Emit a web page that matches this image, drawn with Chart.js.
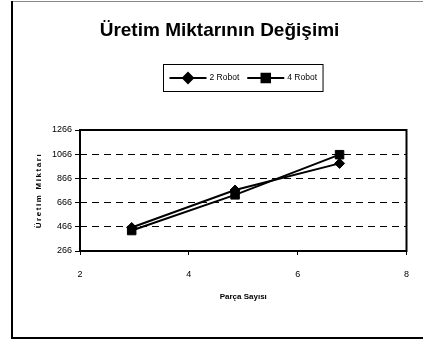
<!DOCTYPE html>
<html>
<head>
<meta charset="utf-8">
<title>Üretim Miktarının Değişimi</title>
<script src="https://cdn.jsdelivr.net/npm/chart.js@4/dist/chart.umd.min.js"></script>
<style>
  html, body { margin: 0; padding: 0; background: #fff; }
  #wrap { position: relative; width: 423px; height: 344px; }
</style>
</head>
<body>
<div id="wrap"><canvas id="c" width="423" height="344"></canvas></div>
<script>
// Parça sayısı (x) and production amounts for each robot configuration
const parcaSayisi = [2.95, 4.85, 6.77];
const robot2 = [460, 770, 990];
const robot4 = [435, 730, 1062];
const seriesLabels = ['2 Robot', '4 Robot'];
const yTicks = [266, 466, 666, 866, 1066, 1266];
const xTicks = [2, 4, 6, 8];

const FONT = "'Liberation Sans', Arial, sans-serif";

// Outer frame of the chart object
const framePlugin = {
  id: 'frame',
  beforeDraw(chart) {
    const ctx = chart.ctx;
    ctx.save();
    ctx.fillStyle = '#fff';
    ctx.fillRect(0, 0, chart.width, chart.height);
    ctx.strokeStyle = '#8a8a8a';
    ctx.lineWidth = 1;
    ctx.beginPath();
    ctx.moveTo(12, 1.5); ctx.lineTo(chart.width, 1.5);
    ctx.stroke();
    ctx.strokeStyle = '#000';
    ctx.lineWidth = 2;
    ctx.beginPath();
    ctx.moveTo(12, 1); ctx.lineTo(12, 338); ctx.lineTo(chart.width, 338);
    ctx.stroke();
    ctx.restore();
  },
  // spaced lettering for the vertical axis title
  afterLayout(chart) {
    const s = chart.scales.y;
    if (s && !s._spacedTitle) {
      const orig = s.drawTitle.bind(s);
      s.drawTitle = function () {
        const c = this.ctx;
        c.save();
        c.letterSpacing = '1.6px';
        orig();
        c.restore();
      };
      s._spacedTitle = true;
    }
  }
};

// Solid border round the plot area
const plotBorderPlugin = {
  id: 'plotBorder',
  afterDatasetsDraw(chart) {
    const {ctx, chartArea: a} = chart;
    ctx.save();
    ctx.strokeStyle = '#000';
    ctx.lineWidth = 2;
    ctx.strokeRect(a.left, a.top, a.right - a.left, a.bottom - a.top);
    ctx.restore();
  }
};

// Boxed legend: line with marker, then the series name
const boxLegendPlugin = {
  id: 'boxLegend',
  afterDraw(chart) {
    const {ctx, chartArea: a} = chart;
    const cy = 78;
    const lineLen = 37, gap = 3, itemGap = 8;
    ctx.save();
    ctx.font = "8.5px " + FONT;
    const items = chart.data.datasets.map(ds => ({ds, w: ctx.measureText(ds.label).width}));
    const total = items.reduce((s, it) => s + lineLen + gap + it.w, 0) + itemGap * (items.length - 1);
    const padX = 6;
    const boxW = total + padX * 2;
    const boxL = Math.round((a.left + a.right) / 2 - boxW / 2) + 0.5;
    ctx.strokeStyle = '#000';
    ctx.lineWidth = 1;
    ctx.strokeRect(boxL, 64.5, boxW, 27);
    let x = boxL + padX;
    items.forEach(it => {
      const ds = it.ds;
      ctx.strokeStyle = ds.borderColor;
      ctx.lineWidth = 2;
      ctx.beginPath();
      ctx.moveTo(x, cy); ctx.lineTo(x + lineLen, cy);
      ctx.stroke();
      ctx.fillStyle = ds.pointBackgroundColor;
      Chart.helpers.drawPoint(ctx, {pointStyle: ds.pointStyle, rotation: 0, radius: ds.pointRadius, borderWidth: 1}, x + lineLen / 2, cy);
      ctx.fill();
      x += lineLen + gap;
      ctx.fillStyle = '#000';
      ctx.textBaseline = 'middle';
      ctx.textAlign = 'left';
      ctx.fillText(ds.label, x, cy);
      x += it.w + itemGap;
    });
    ctx.restore();
  }
};

const ctx = document.getElementById('c').getContext('2d');
new Chart(ctx, {
  type: 'line',
  data: {
    datasets: [
      {
        label: seriesLabels[0],
        data: parcaSayisi.map((x, i) => ({x, y: robot2[i]})),
        borderColor: '#000',
        backgroundColor: '#000',
        pointBackgroundColor: '#000',
        pointBorderColor: '#000',
        borderWidth: 2,
        pointStyle: 'rectRot',
        pointRadius: 5,
        pointBorderWidth: 1,
        tension: 0
      },
      {
        label: seriesLabels[1],
        data: parcaSayisi.map((x, i) => ({x, y: robot4[i]})),
        borderColor: '#000',
        backgroundColor: '#000',
        pointBackgroundColor: '#000',
        pointBorderColor: '#000',
        borderWidth: 2,
        pointStyle: 'rect',
        pointRadius: 6,
        pointBorderWidth: 1,
        tension: 0
      }
    ]
  },
  options: {
    responsive: false,
    animation: false,
    devicePixelRatio: 1,
    layout: { padding: { top: 0, left: 30, right: 14, bottom: 0 } },
    plugins: {
      legend: { display: false },
      tooltip: { enabled: false },
      title: {
        display: true,
        text: 'Üretim Miktarının Değişimi',
        color: '#000',
        font: { family: FONT, size: 19, weight: 'bold', lineHeight: 1.2 },
        padding: { top: 19, bottom: 88.2 }
      }
    },
    scales: {
      x: {
        type: 'linear',
        min: 2, max: 8,
        afterFit(scale) { scale.height = 93; },
        afterBuildTicks(scale) { scale.ticks = xTicks.map(v => ({value: v})); },
        grid: { drawOnChartArea: false, drawTicks: true, tickLength: 4, color: '#000', tickWidth: 1 },
        border: { display: false },
        ticks: { color: '#000', padding: 14, font: { family: FONT, size: 9 }, maxRotation: 0,
                 callback: v => String(v) },
        title: {
          display: true, text: 'Parça Sayısı', color: '#000',
          font: { family: FONT, size: 8, weight: 'bold', lineHeight: 1.2 },
          padding: { top: 4, bottom: 42 }
        }
      },
      y: {
        type: 'linear',
        min: 266, max: 1266,
        afterFit(scale) { scale.width = 50; },
        afterBuildTicks(scale) { scale.ticks = yTicks.map(v => ({value: v})); },
        grid: { color: '#000', lineWidth: 1, drawTicks: true, tickLength: 5, tickColor: '#000' },
        border: { display: false, dash: [7, 5] },
        ticks: { color: '#000', padding: 3, font: { family: FONT, size: 9 },
                 callback: v => String(v) },
        title: {
          display: true, text: 'Üretim Miktarı', color: '#000',
          font: { family: FONT, size: 8, weight: 'bold', lineHeight: 1.2 },
          padding: { top: 4, bottom: 4 }
        }
      }
    }
  },
  plugins: [framePlugin, plotBorderPlugin, boxLegendPlugin]
});
</script>
</body>
</html>
